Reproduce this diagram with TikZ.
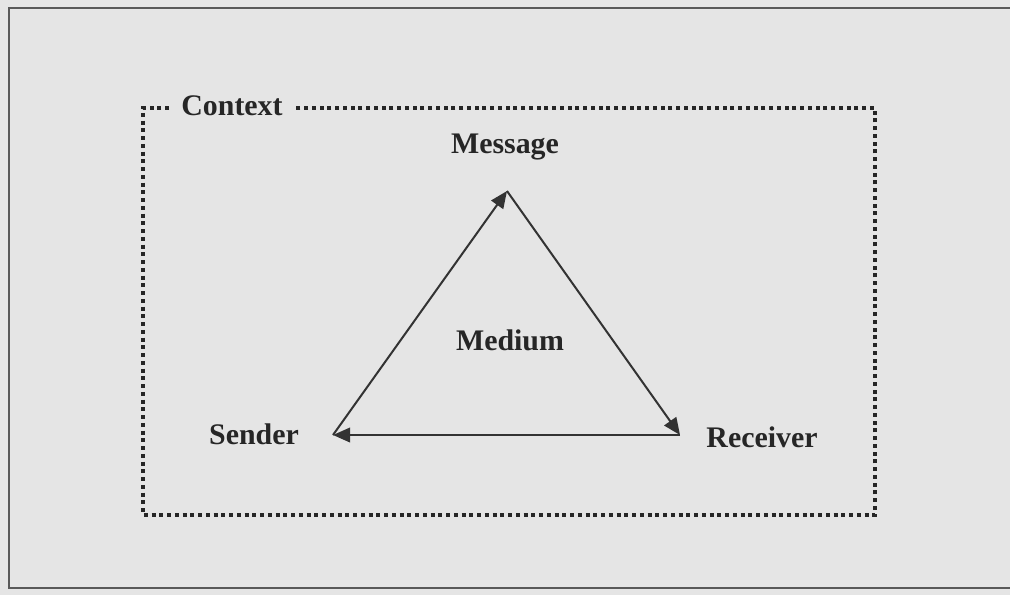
\documentclass[tikz,border=0pt]{standalone}
\usepackage{fontspec}
\setmainfont{Liberation Serif}
\usetikzlibrary{arrows.meta}

\begin{document}
\begin{tikzpicture}[x=0.2mm, y=-0.2mm,
		lbl/.style={font=\fontsize{17}{20}\selectfont\bfseries, text=black!85, inner sep=0pt},
		ctxline/.style={line width=0.8mm, dash pattern=on 0.8mm off 0.75mm, color=black!85},
		flow/.style={line width=0.4mm, color=black!80, -{Triangle[length=3.4mm, width=2.9mm]}}]
			%%%%% START %%%%%
			
			\useasboundingbox (0, 0) rectangle (1010, 595);
			\fill[black!10] (0, 0) rectangle (1010, 595);
			\draw[line width=0.4mm, color=black!65] (9, 8) rectangle (1020, 588);
			
			\node[lbl] (context) at (232, 106) {Context};
			\coordinate (tl) at (143, 108);
			\coordinate (bl) at (143, 515);
			\coordinate (br) at (875, 515);
			\coordinate (tr) at (875, 108);
			\draw[ctxline] ([xshift=-2.4mm]context.west |- tl) -- (tl) -- (bl) -- (br) -- (tr) -- ([xshift=2.4mm]context.east |- tr);
			
			\node[lbl] (message) at (505, 147) {Message};
			\node[lbl] (medium) at (510, 340) {Medium};
			\node[lbl] (sender) at (254, 434) {Sender};
			\node[lbl] (receiver) at (762, 437) {Receiver};
			
			\coordinate (apex) at (507, 191);
			\coordinate (lc) at (333, 435);
			\coordinate (rc) at (680, 435);
			
			\draw[flow] (lc) -- (apex);
			\draw[flow] (apex) -- (rc);
			\draw[flow] (rc) -- (lc);
			
			%%%%% END %%%%%
\end{tikzpicture}
\end{document}
